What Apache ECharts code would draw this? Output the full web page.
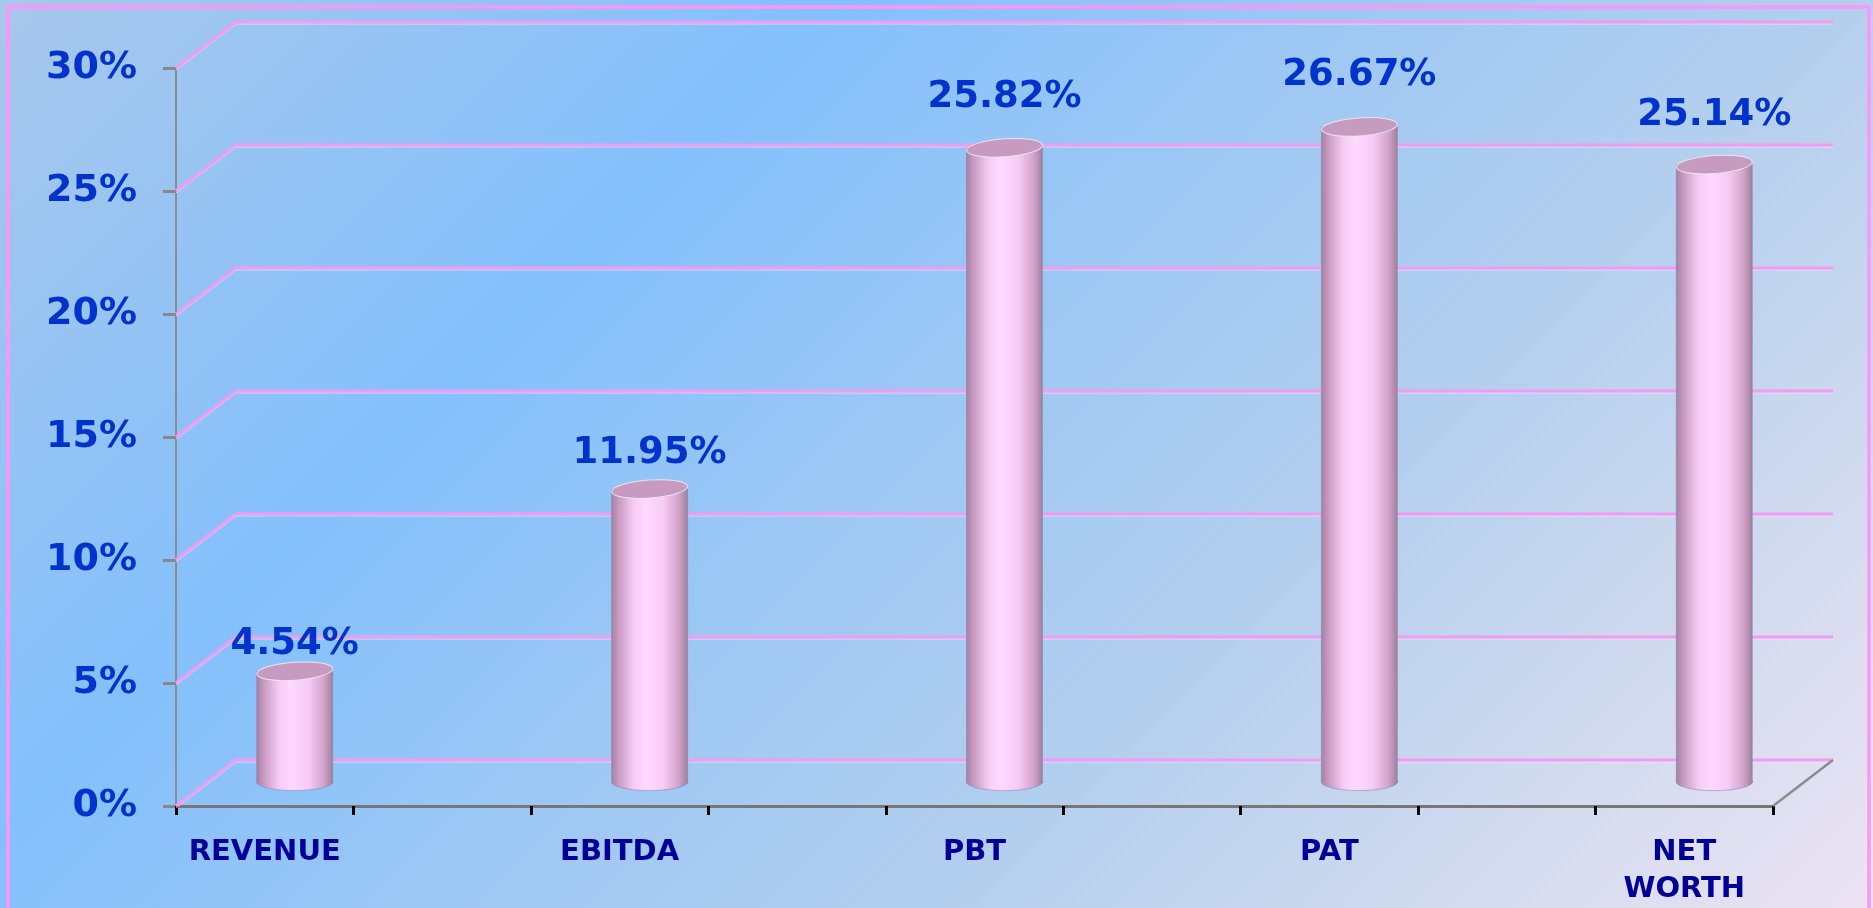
<!DOCTYPE html>
<html><head><meta charset="utf-8">
<script src="https://cdn.jsdelivr.net/npm/echarts@6/dist/echarts.min.js"></script>
<style>html,body{margin:0;padding:0;width:1873px;height:908px;overflow:hidden}#c{width:1873px;height:908px}</style>
</head><body><div id="c"></div>
<script>
// ---- data ----
const categories = ['REVENUE', 'EBITDA', 'PBT', 'PAT', 'NET WORTH'];
const values = [4.54, 11.95, 25.82, 26.67, 25.14];
const yTicks = [0, 5, 10, 15, 20, 25, 30];

// ---- layout constants (3D look) ----
const FONT = 'DejaVu Sans';
const DX = 60, DY = -46;          // depth offset of back wall
const BX = 30, BY = -23;          // bars sit mid-depth
const RX = 38, RY = 9;            // cylinder radii
const X_MAX = 9;                  // front axis units (2 per category)
const catPos = i => 2 * i + 0.5;

const chart = echarts.init(document.getElementById('c'), null, {renderer: 'canvas'});

const wallSeries = {
  type: 'custom', z: 2, silent: true,
  data: yTicks.map(v => [0, v]),
  encode: {x: 0, y: 1},
  renderItem(params, api) {
    const v = api.value(1);
    const p = api.coord([0, v]);
    const e = api.coord([X_MAX, v]);
    const pts = [[p[0], p[1]], [p[0] + DX, p[1] + DY], [e[0] + DX, p[1] + DY]];
    const children = [
      {type: 'polyline', shape: {points: pts.map(q => [q[0], q[1] + 2])},
       style: {stroke: 'rgba(245,235,255,0.7)', lineWidth: 1, fill: null}},
      {type: 'polyline', shape: {points: pts},
       style: {stroke: '#f59af2', lineWidth: 3, fill: null}}
    ];
    if (v === 0) {
      children.push({type: 'line', shape: {x1: e[0], y1: e[1], x2: e[0] + DX, y2: e[1] + DY},
        style: {stroke: '#8c8c8c', lineWidth: 2.5}});
    }
    return {type: 'group', children};
  }
};

const barSeries = {
  type: 'custom', z: 5, silent: true,
  data: values.map((v, i) => [catPos(i), v]),
  encode: {x: 0, y: 1},
  renderItem(params, api) {
    const v = api.value(1);
    const b = api.coord([api.value(0), 0]);
    const t = api.coord([api.value(0), v]);
    const cx = b[0] + BX, by = b[1] + BY, ty = t[1] + BY;
    const sidePath = 'M' + (cx - RX) + ' ' + ty + ' L' + (cx - RX) + ' ' + by +
      ' A' + RX + ' ' + RY + ' 0 0 0 ' + (cx + RX) + ' ' + (by - 3) +
      ' L' + (cx + RX) + ' ' + ty + ' Z';
    return {type: 'group', children: [
      {type: 'path', shape: {pathData: sidePath},
       style: {
         fill: {type: 'linear', x: 0, y: 0, x2: 1, y2: 0, colorStops: [
           {offset: 0, color: '#a47e9c'}, {offset: 0.1, color: '#c99bc3'},
           {offset: 0.3, color: '#f8cdf5'}, {offset: 0.45, color: '#ffd9ff'},
           {offset: 0.68, color: '#f7caf3'}, {offset: 0.87, color: '#d3a3cc'},
           {offset: 1, color: '#9a7d94'}]},
         stroke: 'rgba(120,135,185,0.55)', lineWidth: 1}},
      {type: 'ellipse', x: cx, y: ty, rotation: 0.07,
       shape: {cx: 0, cy: 0, rx: RX, ry: RY},
       style: {fill: '#c69bbf', stroke: '#efe2f4', lineWidth: 1}},
      {type: 'text', x: cx, y: ty - (22 + 1.1 * v),
       style: {text: v.toFixed(2) + '%', align: 'center', verticalAlign: 'middle',
               font: 'bold 37px "' + FONT + '"', fill: '#0033cc'}}
    ]};
  }
};

chart.setOption({
  animation: false,
  graphic: [
    {type: 'rect', z: -10, silent: true, shape: {x: 0, y: 0, width: 1873, height: 908},
     style: {fill: {type: 'linear', global: true, x: 0, y: 0, x2: 1390, y2: 1390, colorStops: [
       {offset: 0, color: '#a8c7eb'}, {offset: 0.3, color: '#84c0fc'},
       {offset: 0.5, color: '#9fc8f3'}, {offset: 0.67, color: '#b4cfee'},
       {offset: 0.85, color: '#d3dbee'}, {offset: 1, color: '#ece3f5'}]}}},
    {type: 'rect', z: 100, silent: true, shape: {x: 8, y: 7, width: 1861, height: 920},
     style: {fill: null, stroke: '#ff94f6', lineWidth: 3.5}}
  ],
  grid: {left: 176, top: 68, width: 1597, height: 740},
  xAxis: {
    type: 'value', min: 0, max: X_MAX, interval: 1,
    splitLine: {show: false},
    axisLine: {show: true, lineStyle: {color: '#777', width: 3}},
    axisTick: {show: true, length: 9, lineStyle: {color: '#000', width: 3}},
    axisLabel: {
      customValues: categories.map((c, i) => catPos(i)),
      formatter: v => categories[Math.round((v - 0.5) / 2)].replace(' ', '\n'),
      color: '#000099', fontFamily: FONT, fontWeight: 'bold', fontSize: 29,
      lineHeight: 37, margin: 28
    }
  },
  yAxis: {
    type: 'value', min: 0, max: 30, interval: 5,
    splitLine: {show: false},
    axisLine: {show: true, lineStyle: {color: '#8c8c8c', width: 2}},
    axisTick: {show: true, length: 13, lineStyle: {color: '#888', width: 3}},
    axisLabel: {formatter: '{value}%', color: '#0033cc', fontFamily: FONT,
                fontWeight: 'bold', fontSize: 38, margin: 39}
  },
  series: [wallSeries, barSeries]
});
</script></body></html>
